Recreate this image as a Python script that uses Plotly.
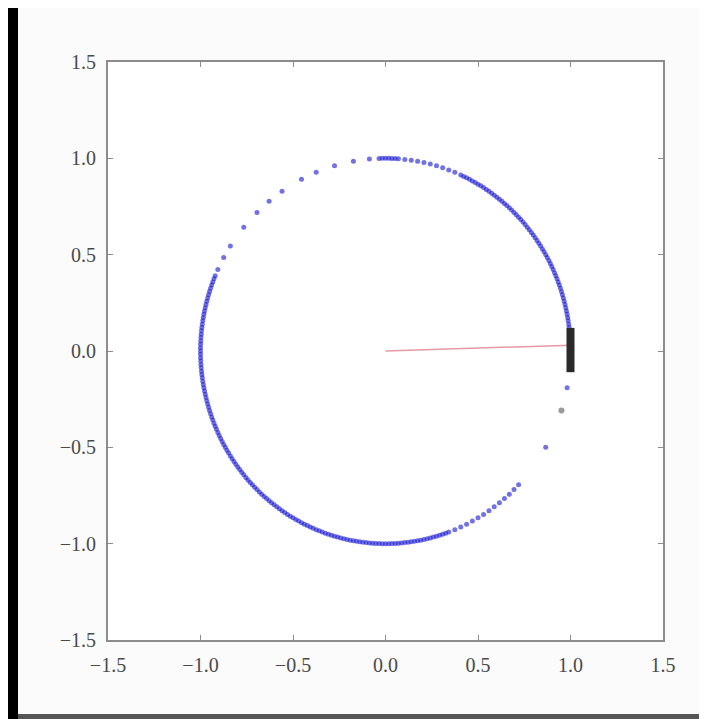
import math
import plotly.graph_objects as go

# Angles (degrees) of the blue trajectory points on the unit circle
blue_angles = [
    5, 6, 7, 8, 9, 10, 11, 12, 13, 14, 15, 16, 17, 18, 19, 20, 21, 22, 23, 24, 25, 26, 27, 28,
    29, 30, 31, 32, 33, 34, 35, 36, 37, 38, 39, 40, 41, 42, 43, 44, 45, 46, 47, 48, 49, 50,
    51, 52, 53, 54, 55, 56, 57, 58, 59, 60, 61, 62, 63, 64, 65, 66,
    68, 70, 72, 74, 76, 78, 80, 82, 84, 86, 87, 88, 89, 90, 91, 92,
    95, 100, 106, 112, 117, 124, 129, 134, 140, 147, 151, 155,
    157, 158, 159, 160, 161, 162, 163, 164, 165, 166, 167, 168, 169, 170, 171, 172, 173, 174,
    175, 176, 177, 178, 179, 180, 181, 182, 183, 184, 185, 186, 187, 188, 189, 190, 191, 192,
    193, 194, 195, 196, 197, 198, 199, 200, 201, 202, 203, 204, 205, 206, 207, 208, 209, 210,
    211, 212, 213, 214, 215, 216, 217, 218, 219, 220, 221, 222, 223, 224, 225, 226, 227, 228,
    229, 230, 231, 232, 233, 234, 235, 236, 237, 238, 239, 240, 241, 242, 243, 244, 245, 246,
    247, 248, 249, 250, 251, 252, 253, 254, 255, 256, 257, 258, 259, 260, 261, 262, 263, 264,
    265, 266, 267, 268, 269, 270, 271, 272, 273, 274, 275, 276, 277, 278, 279, 280, 281, 282,
    283, 284, 285, 286, 287, 288, 289, 290, 292, 294, 296, 298, 300, 302, 304, 306, 308, 310,
    312, 314, 316,
    330, 349]
gray_angles = [342]

# Black segment at x = 1.0
black_x = [1.0, 1.0]
black_y = [-0.11, 0.12]

# Red line from origin
red_x = [0.0, 1.0]
red_y = [0.0, 0.03]

tick_vals = [-1.5, -1.0, -0.5, 0.0, 0.5, 1.0, 1.5]
tick_text = ["\u22121.5", "\u22121.0", "\u22120.5", "0.0", "0.5", "1.0", "1.5"]

bx = [math.cos(math.radians(a)) for a in blue_angles]
by = [math.sin(math.radians(a)) for a in blue_angles]
gx = [math.cos(math.radians(a)) for a in gray_angles]
gy = [math.sin(math.radians(a)) for a in gray_angles]

fig = go.Figure()
fig.add_trace(go.Scatter(x=red_x, y=red_y, mode="lines",
                         line=dict(color="rgba(210,50,70,0.5)", width=1.5),
                         hoverinfo="skip"))
fig.add_trace(go.Scatter(x=bx, y=by, mode="markers",
                         marker=dict(color="rgba(20,20,210,0.6)", size=5, line=dict(width=0)),
                         hoverinfo="skip"))
fig.add_trace(go.Scatter(x=gx, y=gy, mode="markers",
                         marker=dict(color="rgba(110,110,120,0.7)", size=6, line=dict(width=0)),
                         hoverinfo="skip"))
fig.add_trace(go.Scatter(x=black_x, y=black_y, mode="lines",
                         line=dict(color="#2a2a2a", width=8),
                         hoverinfo="skip"))

axis_common = dict(
    tickvals=tick_vals, ticktext=tick_text,
    showgrid=False, zeroline=False,
    showline=True, linecolor="#8c8c8c", linewidth=2, mirror="ticks",
    ticks="inside", ticklen=5, tickcolor="#8c8c8c", tickwidth=1,
    tickfont=dict(family="Liberation Serif", size=20, color="#4a4a4a"),
)

fig.update_layout(
    width=699, height=711,
    margin=dict(l=100, r=44, t=54, b=79),
    paper_bgcolor="#fbfbfb", plot_bgcolor="#ffffff",
    showlegend=False,
    xaxis=dict(range=[-1.5, 1.5], ticklabelstandoff=6, **axis_common),
    yaxis=dict(range=[-1.5, 1.5], ticklabelstandoff=6, **axis_common),
    shapes=[
        dict(type="rect", xref="paper", yref="paper",
             x0=-0.3, x1=-90 / 555, y0=-0.3, y1=1.3,
             fillcolor="#000000", line=dict(width=0), layer="above"),
        dict(type="rect", xref="paper", yref="paper",
             x0=-90 / 555, x1=1.3, y0=-0.3, y1=-74 / 578,
             fillcolor="#555555", line=dict(width=0), layer="above"),
    ],
)

fig.write_html("out.html")
